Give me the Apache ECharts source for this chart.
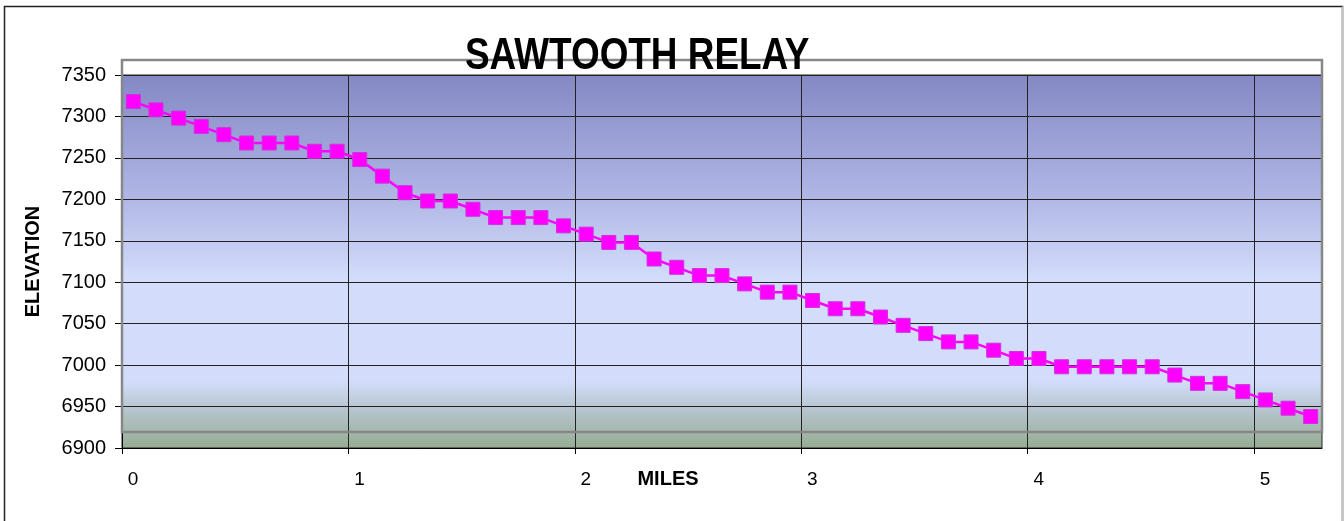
<!DOCTYPE html>
<html><head><meta charset="utf-8">
<script src="https://cdn.jsdelivr.net/npm/echarts@6/dist/echarts.min.js"></script>
<style>html,body{margin:0;padding:0;background:#fff}#c{width:1344px;height:521px}</style>
</head><body><div id="c"></div>
<script>
const titleText = 'SAWTOOTH RELAY';
const xName = 'MILES';
const yName = 'ELEVATION';
const miles = [0.05,0.15,0.25,0.35,0.45,0.55,0.65,0.75,0.85,0.95,
  1.05,1.15,1.25,1.35,1.45,1.55,1.65,1.75,1.85,1.95,
  2.05,2.15,2.25,2.35,2.45,2.55,2.65,2.75,2.85,2.95,
  3.05,3.15,3.25,3.35,3.45,3.55,3.65,3.75,3.85,3.95,
  4.05,4.15,4.25,4.35,4.45,4.55,4.65,4.75,4.85,4.95,
  5.05,5.15,5.25];
const elevation = [7318,7308,7298,7288,7278,7268,7268,7268,7258,7258,
  7248,7228,7208,7198,7198,7188,7178,7178,7178,7168,
  7158,7148,7148,7128,7118,7108,7108,7098,7088,7088,
  7078,7068,7068,7058,7048,7038,7028,7028,7018,7008,
  7008,6998,6998,6998,6998,6998,6988,6978,6978,6968,
  6958,6948,6938];
const xTicks = [0,1,2,3,4,5];
const xMax = 5.3;
const yTicks = [6900,6950,7000,7050,7100,7150,7200,7250,7300,7350];

const G = {left:122, right:22, top:75, bottom:73};
const W = 1344, H = 521;
const chart = echarts.init(document.getElementById('c'), null, {renderer:'canvas'});
const font = "'Liberation Sans', Arial, sans-serif";
chart.setOption({
  animation:false,
  backgroundColor:'#ffffff',
  grid:{
    left:G.left, right:G.right, top:G.top, bottom:G.bottom,
    containLabel:false, outerBoundsMode:'none',
    show:true, borderColor:'#222', borderWidth:1,
    backgroundColor:{type:'linear', x:0, y:0, x2:0, y2:1, colorStops:[
      {offset:0, color:'#8488c4'},
      {offset:0.3, color:'#acb2e2'},
      {offset:0.55, color:'#d3ddfb'},
      {offset:0.82, color:'#d3ddfb'},
      {offset:0.9, color:'#b5c4cc'},
      {offset:1, color:'#96ac93'}
    ]}
  },
  xAxis:{
    type:'value', min:xTicks[0], max:xMax, interval:1,
    name:xName, nameLocation:'middle', nameGap:21, nameMoveOverlap:false,
    nameTextStyle:{fontFamily:font, fontWeight:'bold', fontSize:20, color:'#000', padding:[0,108,0,0]},
    axisLine:{show:true, lineStyle:{color:'#000', width:1}},
    axisTick:{show:true, length:6, inside:false, customValues:xTicks, lineStyle:{color:'#000'}},
    axisLabel:{customValues:xTicks, fontFamily:font, fontSize:19, color:'#000', margin:22, padding:[0,0,0,22],
      formatter:v=>String(v)},
    splitLine:{show:true, lineStyle:{color:'#222', width:1}}
  },
  yAxis:{
    type:'value', min:yTicks[0], max:yTicks[yTicks.length-1], interval:yTicks[1]-yTicks[0],
    name:yName, nameLocation:'middle', nameGap:79, nameRotate:90, nameMoveOverlap:false,
    nameTextStyle:{fontFamily:font, fontWeight:'bold', fontSize:20, color:'#000'},
    axisLine:{show:true, lineStyle:{color:'#000', width:1}},
    axisTick:{show:true, length:7, lineStyle:{color:'#000'}},
    axisLabel:{fontFamily:font, fontSize:20, color:'#000', margin:16, formatter:v=>String(v)},
    splitLine:{show:true, lineStyle:{color:'#222', width:1}}
  },
  graphic:[
    {type:'rect', z:1, silent:true,
     shape:{x:G.left, y:G.top-15, width:W-G.left-G.right, height:H-G.bottom-G.top-1},
     style:{fill:null, stroke:'#878787', lineWidth:2.5}},
    {type:'text', z:20, silent:true, x:465, y:79, scaleX:0.82,
     style:{text:titleText, fill:'#000', font:"bold 45px 'Liberation Sans', Arial, sans-serif",
       textAlign:'left', textVerticalAlign:'bottom'}},
    {type:'polyline', z:10, silent:true, shape:{points:[[4.5,H],[4.5,6.5],[1342.5,6.5],[1342.5,H]]},
     style:{fill:null, stroke:'#222', lineWidth:1.5}},
    {type:'line', z:11, silent:true, shape:{x1:1342.5,y1:6.5,x2:1342.5,y2:H}, style:{stroke:'#c8c8c8', lineWidth:1.5}}
  ],
  series:[{
    type:'line', z:5,
    data: miles.map((m,i)=>[m, elevation[i]]),
    symbol:'rect', symbolSize:14, showSymbol:true,
    lineStyle:{color:'#ff00ff', width:2.5},
    itemStyle:{color:'#ff00ff', borderColor:'#cc33dd', borderWidth:1}
  }]
});
</script></body></html>
